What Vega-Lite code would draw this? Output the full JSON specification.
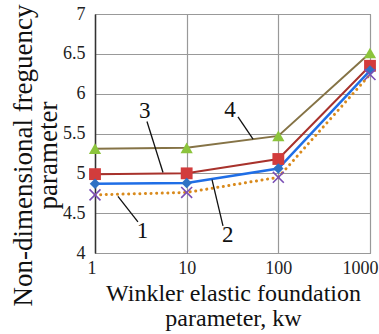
{
  "$schema": "https://vega.github.io/schema/vega-lite/v6.json",
  "width": 275,
  "height": 239,
  "autosize": "none",
  "padding": {"left": 95, "top": 14, "right": 9, "bottom": 81},
  "background": "white",
  "config": {
    "font": "Liberation Serif",
    "view": {"stroke": "#777", "strokeWidth": 1}
  },
  "datasets": {
    "pts": [
      {"kw": 1, "v": 4.73, "s": "1"}, {"kw": 10, "v": 4.76, "s": "1"}, {"kw": 100, "v": 4.95, "s": "1"}, {"kw": 1000, "v": 6.24, "s": "1"},
      {"kw": 1, "v": 4.87, "s": "2"}, {"kw": 10, "v": 4.88, "s": "2"}, {"kw": 100, "v": 5.06, "s": "2"}, {"kw": 1000, "v": 6.29, "s": "2"},
      {"kw": 1, "v": 4.99, "s": "3"}, {"kw": 10, "v": 5.0, "s": "3"}, {"kw": 100, "v": 5.18, "s": "3"}, {"kw": 1000, "v": 6.35, "s": "3"},
      {"kw": 1, "v": 5.31, "s": "4"}, {"kw": 10, "v": 5.32, "s": "4"}, {"kw": 100, "v": 5.47, "s": "4"}, {"kw": 1000, "v": 6.51, "s": "4"}
    ],
    "ann": [
      {"t": "1", "x": 3.3, "y": 4.28, "x1": 1.78, "y1": 4.71, "x2": 2.94, "y2": 4.39},
      {"t": "2", "x": 28, "y": 4.22, "x1": 18.9, "y1": 4.92, "x2": 24.9, "y2": 4.34},
      {"t": "3", "x": 3.5, "y": 5.78, "x1": 3.69, "y1": 5.65, "x2": 5.52, "y2": 5.01},
      {"t": "4", "x": 29.7, "y": 5.8, "x1": 36.3, "y1": 5.71, "x2": 53, "y2": 5.43}
    ]
  },
  "resolve": {"axis": {"y": "independent"}},
  "layer": [
    {
      "data": {"name": "pts"},
      "mark": {"type": "point", "opacity": 0},
      "encoding": {
        "x": {"field": "kw", "type": "quantitative",
          "scale": {"type": "log", "domain": [1, 1000]},
          "axis": {"values": [1, 10, 100, 1000], "format": "d", "gridColor": "#999", "gridWidth": 1.2, "domain": false, "ticks": false,
            "labelFont": "Liberation Serif", "labelFontSize": 18, "labelColor": "#222", "labelPadding": 6, "labelFlush": true, "labelFlushOffset": 8,
            "title": ["Winkler elastic foundation", "parameter, kw"], "titleFont": "Liberation Serif", "titleFontSize": 24, "titleFontWeight": "normal", "titleColor": "#111",
            "titleLineHeight": 25, "titleX": 138, "titleY": 40, "titleBaseline": "middle", "titleAlign": "center"}},
        "y": {"field": "v", "type": "quantitative",
          "scale": {"domain": [4, 7], "nice": false, "zero": false},
          "axis": {"orient": "left", "values": [4, 4.5, 5, 5.5, 6, 6.5, 7], "format": ".1~f",
            "gridColor": "#999", "gridWidth": 1.2,
            "domainColor": "#333", "domainWidth": 1.5, "ticks": false,
            "labelFont": "Liberation Serif", "labelFontSize": 18, "labelColor": "#222", "labelPadding": 10, "labelFlush": false, "labelOverlap": false,
            "title": ["Non-dimensional freguency", "parameter"], "titleFont": "Liberation Serif", "titleFontSize": 27, "titleFontWeight": "normal", "titleColor": "#111",
            "titleLineHeight": 25, "titleX": -72, "titleY": 141, "titleAngle": -90, "titleBaseline": "middle", "titleAlign": "center"}}
      }
    },
    {
      "data": {"name": "pts"},
      "mark": {"type": "point", "opacity": 0},
      "encoding": {
        "x": {"field": "kw", "type": "quantitative"},
        "y": {"field": "v", "type": "quantitative",
          "axis": {"orient": "right", "values": [4.1, 4.2, 4.3, 4.4, 4.6, 4.7, 4.8, 4.9, 5.1, 5.2, 5.3, 5.4, 5.6, 5.7, 5.8, 5.9, 6.1, 6.2, 6.3, 6.4, 6.6, 6.7, 6.8, 6.9],
            "gridColor": "#e4e4e4", "gridWidth": 0.8, "domain": false, "ticks": false, "labels": false, "title": null}}
      }
    },
    {
      "data": {"name": "pts"},
      "transform": [{"filter": "datum.s === '4'"}],
      "mark": {"type": "line", "color": "#857346", "strokeWidth": 2},
      "encoding": {"x": {"field": "kw", "type": "quantitative"}, "y": {"field": "v", "type": "quantitative", "axis": null}}
    },
    {
      "data": {"name": "pts"},
      "transform": [{"filter": "datum.s === '3'"}],
      "mark": {"type": "line", "color": "#a8322c", "strokeWidth": 2},
      "encoding": {"x": {"field": "kw", "type": "quantitative"}, "y": {"field": "v", "type": "quantitative", "axis": null}}
    },
    {
      "data": {"name": "pts"},
      "transform": [{"filter": "datum.s === '2'"}],
      "mark": {"type": "line", "color": "#1f6ee6", "strokeWidth": 2.5},
      "encoding": {"x": {"field": "kw", "type": "quantitative"}, "y": {"field": "v", "type": "quantitative", "axis": null}}
    },
    {
      "data": {"name": "pts"},
      "transform": [{"filter": "datum.s === '1'"}],
      "mark": {"type": "line", "color": "#d98a1c", "strokeWidth": 3, "strokeDash": [0.1, 5.5], "strokeCap": "round"},
      "encoding": {"x": {"field": "kw", "type": "quantitative"}, "y": {"field": "v", "type": "quantitative", "axis": null}}
    },
    {
      "data": {"name": "pts"},
      "transform": [{"filter": "datum.s === '4'"}],
      "mark": {"type": "point", "shape": "triangle-up", "filled": true, "color": "#8cc43c", "size": 150, "opacity": 1},
      "encoding": {"x": {"field": "kw", "type": "quantitative"}, "y": {"field": "v", "type": "quantitative", "axis": null}}
    },
    {
      "data": {"name": "pts"},
      "transform": [{"filter": "datum.s === '3'"}],
      "mark": {"type": "point", "shape": "square", "filled": true, "color": "#d23c3c", "size": 140, "opacity": 1},
      "encoding": {"x": {"field": "kw", "type": "quantitative"}, "y": {"field": "v", "type": "quantitative", "axis": null}}
    },
    {
      "data": {"name": "pts"},
      "transform": [{"filter": "datum.s === '2'"}],
      "mark": {"type": "point", "shape": "diamond", "filled": true, "color": "#2e72c4", "size": 110, "opacity": 1},
      "encoding": {"x": {"field": "kw", "type": "quantitative"}, "y": {"field": "v", "type": "quantitative", "axis": null}}
    },
    {
      "data": {"name": "pts"},
      "transform": [{"filter": "datum.s === '1'"}],
      "mark": {"type": "point", "shape": "M-1,-1L1,1M1,-1L-1,1", "filled": false, "color": "#7a4fb5", "size": 120, "strokeWidth": 1.6, "opacity": 1},
      "encoding": {"x": {"field": "kw", "type": "quantitative"}, "y": {"field": "v", "type": "quantitative", "axis": null}}
    },
    {
      "data": {"name": "ann"},
      "mark": {"type": "rule", "color": "#111", "strokeWidth": 1.3},
      "encoding": {
        "x": {"field": "x1", "type": "quantitative"}, "y": {"field": "y1", "type": "quantitative", "axis": null},
        "x2": {"field": "x2"}, "y2": {"field": "y2"}
      }
    },
    {
      "data": {"name": "ann"},
      "mark": {"type": "text", "font": "Liberation Serif", "fontSize": 23, "color": "#111", "align": "center", "baseline": "middle"},
      "encoding": {
        "x": {"field": "x", "type": "quantitative"}, "y": {"field": "y", "type": "quantitative", "axis": null},
        "text": {"field": "t"}
      }
    }
  ]
}
